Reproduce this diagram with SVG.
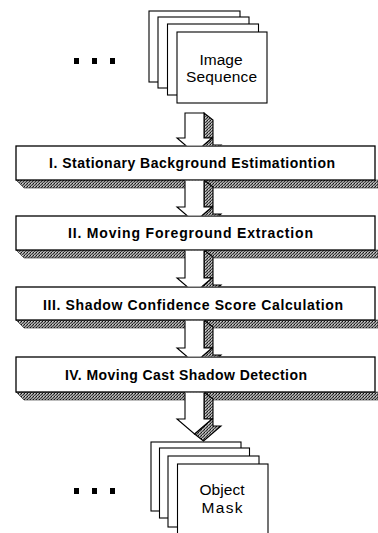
<svg xmlns="http://www.w3.org/2000/svg" width="378" height="533" viewBox="0 0 378 533">
<style>
.card{fill:#fff;stroke:#000;stroke-width:1.1}
.box{fill:#fff;stroke:#000;stroke-width:1.3}
.shade{fill:url(#dots);stroke:#222;stroke-width:0.6}
.front{fill:#fff;stroke:#000;stroke-width:1.1;stroke-linejoin:miter}
.side{fill:url(#dots);stroke:#000;stroke-width:1.1}
.lbl{font-family:"Liberation Sans",Arial,sans-serif;font-size:14px;font-weight:bold;fill:#000}
.ctxt{font-family:"Liberation Sans",Arial,sans-serif;font-size:15.5px;fill:#000;text-anchor:middle}
.dot{fill:#000}
</style>
<defs>
<pattern id="dots" width="3" height="3" patternUnits="userSpaceOnUse">
<rect width="3" height="3" fill="#9a9a9a"/>
<rect x="0" y="0" width="1" height="1" fill="#111"/>
<rect x="2" y="1" width="1" height="1" fill="#333"/>
<rect x="1" y="2" width="1" height="1" fill="#444"/>
<rect x="1" y="0" width="1" height="1" fill="#d0d0d0"/>
</pattern>
<clipPath id="cut">
<path clip-rule="evenodd" d="M0 0H378V533H0Z M15 145.5H376V180.5H15Z M15 215.5H376V250.5H15Z M15 286.5H376V320.5H15Z M15 356.5H376V392.5H15Z"/>
</clipPath>
</defs>

<g id="input-dots">
<rect class="dot" x="74" y="58" width="5" height="6"/>
<rect class="dot" x="92" y="58" width="5" height="6"/>
<rect class="dot" x="110" y="58" width="5" height="6"/>
</g>
<g id="image-sequence">
<rect class="card" x="149" y="11" width="91" height="71"/>
<rect class="card" x="158" y="17" width="91" height="71"/>
<rect class="card" x="167.5" y="24" width="91" height="71"/>
<rect class="card" x="177" y="32" width="90" height="71"/>
<text class="ctxt" x="221" y="65" textLength="43" lengthAdjust="spacing">Image</text>
<text class="ctxt" x="221.5" y="82" textLength="71" lengthAdjust="spacing">Sequence</text>
</g>

<g id="step1">
<polygon class="shade" points="16,180 378,180 378,188 24,188"/>
<rect class="box" x="16" y="146" width="359" height="34"/>
<text class="lbl" x="49" y="168" textLength="286" lengthAdjust="spacing">I. Stationary Background Estimationtion</text>
</g>
<g id="step2">
<polygon class="shade" points="16,250 378,250 378,258 24,258"/>
<rect class="box" x="16" y="216" width="359" height="34"/>
<text class="lbl" x="68" y="238" textLength="245" lengthAdjust="spacing">II. Moving Foreground Extraction</text>
</g>
<g id="step3">
<polygon class="shade" points="16,320 378,320 378,328 24,328"/>
<rect class="box" x="16" y="287" width="359" height="33"/>
<text class="lbl" x="43" y="310" textLength="300" lengthAdjust="spacing">III. Shadow Confidence Score Calculation</text>
</g>
<g id="step4">
<polygon class="shade" points="16,392 378,392 378,400 24,400"/>
<rect class="box" x="16" y="357" width="359" height="35"/>
<text class="lbl" x="65" y="380" textLength="242" lengthAdjust="spacing">IV. Moving Cast Shadow Detection</text>
</g>

<g id="output-dots">
<rect class="dot" x="74" y="488" width="5" height="6"/>
<rect class="dot" x="92" y="488" width="5" height="6"/>
<rect class="dot" x="110" y="488" width="5" height="6"/>
</g>
<g id="object-mask">
<rect class="card" x="151" y="442" width="90" height="69"/>
<rect class="card" x="159.5" y="448" width="90" height="70"/>
<rect class="card" x="168" y="456" width="91" height="71"/>
<rect class="card" x="177.5" y="464" width="90.5" height="75"/>
<text class="ctxt" x="222" y="495" textLength="45" lengthAdjust="spacing">Object</text>
<text class="ctxt" x="222" y="513" textLength="41" lengthAdjust="spacing">Mask</text>
</g>

<g id="connectors" clip-path="url(#cut)">
<g id="arrow0">
<polygon class="side" points="204,113 213,120 213,145 221,145 203.5,160 194.5,153 212,138 204,138"/>
<polygon class="front" points="185,113 204,113 204,138 212,138 194.5,153 177,138 185,138"/>
</g>
<g id="arrow1">
<polygon class="side" points="204,180 213,187 213,214 221,214 203.5,229 194.5,222 212,207 204,207"/>
<polygon class="front" points="185,180 204,180 204,207 212,207 194.5,222 177,207 185,207"/>
</g>
<g id="arrow2">
<polygon class="side" points="204,250 213,257 213,285 221,285 203.5,300 194.5,293 212,278 204,278"/>
<polygon class="front" points="185,250 204,250 204,278 212,278 194.5,293 177,278 185,278"/>
</g>
<g id="arrow3">
<polygon class="side" points="204,320 213,327 213,355 221,355 203.5,370 194.5,363 212,348 204,348"/>
<polygon class="front" points="185,320 204,320 204,348 212,348 194.5,363 177,348 185,348"/>
</g>
<g id="arrow4">
<polygon class="side" points="204,392 213,399 213,426 221,426 203.5,441 194.5,434 212,419 204,419"/>
<polygon class="front" points="185,392 204,392 204,419 212,419 194.5,434 177,419 185,419"/>
</g>
</g>
</svg>
